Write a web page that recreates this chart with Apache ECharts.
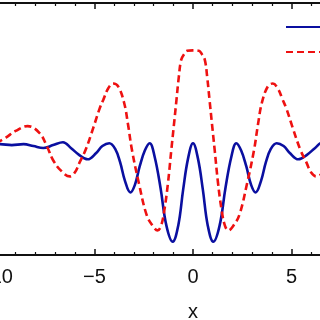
<!DOCTYPE html>
<html><head><meta charset="utf-8">
<script src="https://cdn.jsdelivr.net/npm/echarts@6/dist/echarts.min.js"></script>
<style>html,body{margin:0;padding:0;background:#fff}#c{width:320px;height:320px}</style>
</head><body><div id="c"></div>
<script>
// x positions and values
var blueX = [-10,-9.8,-9.2,-8.6,-8.1,-7.6,-7.1,-6.6,-6.2,-5.8,-5.35,-4.9,-4.6,-4.25,-3.95,-3.7,-3.45,-3.18,-2.95,-2.7,-2.45,-2.2,-1.95,-1.65,-1.35,-1.03,-0.75,-0.5,-0.25,0,0.25,0.5,0.75,1.03,1.35,1.65,1.95,2.2,2.45,2.7,2.95,3.18,3.45,3.7,3.95,4.25,4.6,4.9,5.35,5.8,6.2,6.6,7.1,7.6,8.1,8.6,9.2,9.8,10];
var blueY = [0,0.01,0,0.01,-0.01,-0.03,0,0.03,-0.03,-0.10,-0.15,-0.08,-0.01,0.02,-0.04,-0.18,-0.38,-0.50,-0.42,-0.22,-0.06,0.02,-0.12,-0.45,-0.85,-1.02,-0.85,-0.47,-0.14,0.02,-0.14,-0.47,-0.85,-1.02,-0.85,-0.45,-0.12,0.02,-0.06,-0.22,-0.42,-0.50,-0.38,-0.18,-0.04,0.02,-0.01,-0.08,-0.15,-0.10,-0.03,0.03,0,-0.03,-0.01,0.01,0,0.01,0];
var redX = [-10,-9.5,-9.0,-8.4,-7.8,-7.4,-7.1,-6.7,-6.25,-6.0,-5.75,-5.45,-5.05,-4.75,-4.55,-4.3,-4.05,-3.8,-3.5,-3.3,-3.1,-2.75,-2.35,-2.05,-1.8,-1.62,-1.45,-1.27,-1.1,-0.97,-0.84,-0.72,-0.6,-0.45,-0.3,0,0.3,0.45,0.6,0.72,0.84,0.97,1.1,1.27,1.45,1.62,1.8,2.05,2.35,2.75,3.1,3.3,3.5,3.8,4.05,4.3,4.55,4.75,5.05,5.45,5.75,6.0,6.25,6.7,7.1,7.4,7.8,8.4,9.0,9.5,10];
var redY = [0.02,0.08,0.15,0.20,0.13,-0.02,-0.16,-0.27,-0.33,-0.29,-0.18,-0.05,0.19,0.38,0.48,0.60,0.65,0.62,0.45,0.22,-0.05,-0.40,-0.74,-0.85,-0.90,-0.85,-0.68,-0.40,-0.05,0.21,0.475,0.72,0.90,0.96,0.995,1.0,0.995,0.96,0.90,0.72,0.475,0.21,-0.05,-0.40,-0.68,-0.85,-0.90,-0.85,-0.74,-0.40,-0.05,0.22,0.45,0.62,0.65,0.60,0.48,0.38,0.19,-0.05,-0.18,-0.29,-0.33,-0.27,-0.16,-0.02,0.13,0.20,0.15,0.08,0.02];
var xTicks = {min:-10, max:10, interval:5};
var seriesNames = ['Re ψ(x)', '|ψ(x)|'];

function pairs(xs, ys){ return xs.map(function(x,i){ return [x, ys[i]]; }); }
var chart = echarts.init(document.getElementById('c'), null, {renderer:'canvas'});
var axisCommon = {
  type:'value', min:xTicks.min, max:xTicks.max, interval:xTicks.interval,
  axisLine:{show:true, onZero:false, lineStyle:{color:'#111', width:2}},
  axisTick:{show:true, inside:true, length:6, lineStyle:{color:'#111', width:1.5}},
  minorTick:{show:true, splitNumber:5, length:3, lineStyle:{color:'#111', width:1.2}},
  splitLine:{show:false}, minorSplitLine:{show:false}
};
chart.setOption({
  animation:false,
  backgroundColor:'#fff',
  grid:{left:-4, top:3, width:394, height:252, containLabel:false, outerBoundsMode:'none'},
  legend:{
    orient:'vertical', left:285, top:20, padding:0, itemWidth:50, itemHeight:14, itemGap:11,
    itemStyle:{color:'transparent', borderColor:'transparent', borderWidth:0, opacity:0},
    textStyle:{fontFamily:'Liberation Sans', fontSize:12, lineHeight:14, color:'#000'},
    data:seriesNames
  },
  xAxis:[
    Object.assign({}, axisCommon, {
      position:'bottom', name:'x', nameLocation:'middle', nameGap:47,
      nameTextStyle:{fontFamily:'Liberation Sans', fontSize:20, color:'#111'},
      axisLabel:{show:true, margin:12, fontFamily:'Liberation Sans', fontSize:20, color:'#111',
        formatter:function(v){ return String(v).replace('-', '\u2212'); }}
    }),
    Object.assign({}, axisCommon, {position:'top', axisLabel:{show:false}})
  ],
  yAxis:[{type:'value', min:-1.16, max:1.5, axisLine:{show:true, onZero:false, lineStyle:{color:'#111', width:2}},
    axisTick:{show:false}, axisLabel:{show:false}, splitLine:{show:false}}],
  series:[
    {name:seriesNames[0], type:'line', xAxisIndex:0, data:pairs(blueX, blueY), showSymbol:false, symbol:'none', smooth:0.4,
      lineStyle:{color:'#0a0fa0', width:2.6}, itemStyle:{color:'#0a0fa0'}},
    {name:seriesNames[1], type:'line', xAxisIndex:0, data:pairs(redX, redY), showSymbol:false, symbol:'none', smooth:0.4,
      lineStyle:{color:'#ee1111', width:2.6, type:[7,4]}, itemStyle:{color:'#ee1111'}}
  ]
});
</script></body></html>
